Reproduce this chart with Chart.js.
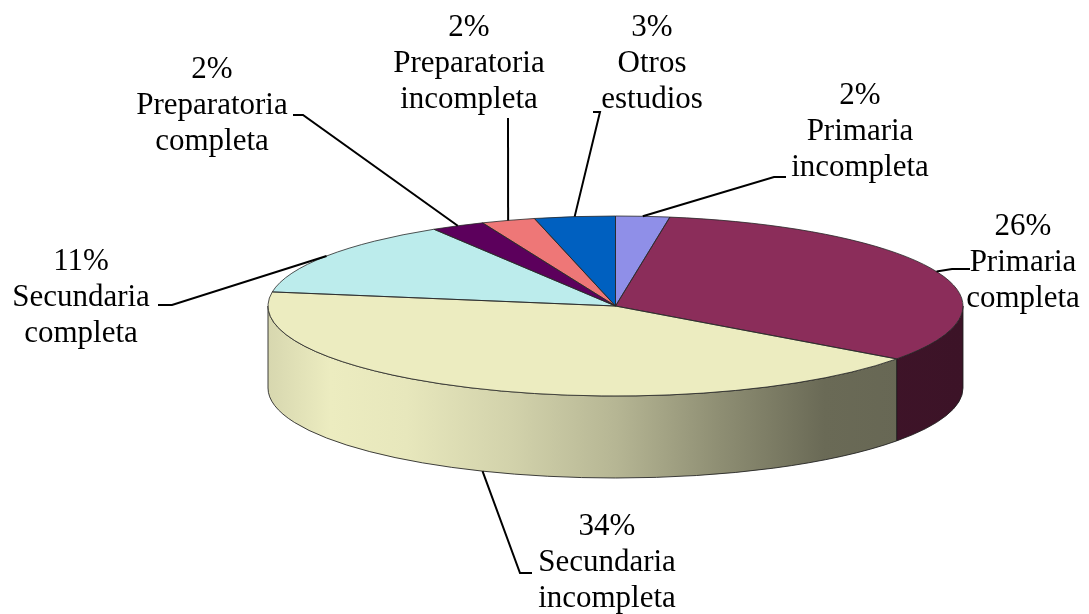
<!DOCTYPE html>
<html>
<head>
<meta charset="utf-8">
<script src="https://cdn.jsdelivr.net/npm/chart.js@4.4.1/dist/chart.umd.min.js"></script>
<style>
  html, body { margin: 0; padding: 0; background: #fff; }
  #pieChart { display: block; }
</style>
</head>
<body>
<canvas id="pieChart" width="1089" height="614"></canvas>
<script>
// data
const categories = ['Primaria incompleta', 'Primaria completa', 'Secundaria incompleta',
  'Secundaria completa', 'Preparatoria completa', 'Preparatoria incompleta', 'Otros estudios'];
const percents = [2, 26, 34, 11, 2, 2, 3];
const sliceColors = ['#8f8fe8', '#8b2d5a', '#ececc0', '#bcecec', '#5c005c', '#ee7777', '#0060c0'];

// label layout (centre of first text line) and leader line elbow/end points
const labelPos = [[860, 96], [1023, 227], [607, 527], [81, 262], [212, 70], [469, 28], [652, 28]];
const leaderTail = [[774, 177, 786, 177], [952, 269, 970, 269], [520, 573, 532, 573],
  [172, 305, 158, 305], [303, 115, 293, 115], [508, 118, 508, 118], [600, 112, 593, 112]];

const depth = 82;
const lineH = 36;
// shading of the side wall from left to right
const sideShade = [[0, 0.91], [0.09, 1], [0.2, 0.98], [0.35, 0.89], [0.5, 0.77], [0.65, 0.6], [0.8, 0.45], [1, 0.43]];

function shadeColor(hex, f) {
  const n = parseInt(hex.slice(1), 16);
  const r = Math.min(255, Math.round(((n >> 16) & 255) * f));
  const g = Math.min(255, Math.round(((n >> 8) & 255) * f));
  const b = Math.min(255, Math.round((n & 255) * f));
  return `rgb(${r},${g},${b})`;
}

function pieGeom(chart) {
  const arcs = chart.getDatasetMeta(0).data;
  const a = arcs[0];
  const rx = chart.chartArea.width / 2;
  return { arcs, cx: a.x, cy: a.y, r: a.outerRadius, rx, ry: a.outerRadius, k: rx / a.outerRadius };
}

const pie3d = {
  id: 'pie3d',
  beforeDatasetsDraw(chart) {
    const ctx = chart.ctx;
    const g = pieGeom(chart);
    // side walls (front half only)
    g.arcs.forEach((arc, i) => {
      const s = Math.max(arc.startAngle, 0);
      const e = Math.min(arc.endAngle, Math.PI);
      if (e <= s) return;
      const grad = ctx.createLinearGradient(g.cx - g.rx, 0, g.cx + g.rx, 0);
      sideShade.forEach(st => grad.addColorStop(st[0], shadeColor(sliceColors[i], st[1])));
      ctx.beginPath();
      ctx.ellipse(g.cx, g.cy, g.rx, g.ry, 0, s, e);
      ctx.ellipse(g.cx, g.cy + depth, g.rx, g.ry, 0, e, s, true);
      ctx.closePath();
      ctx.fillStyle = grad;
      ctx.fill();
      ctx.lineWidth = 1;
      ctx.strokeStyle = 'rgba(30,30,30,0.85)';
      ctx.stroke();
    });
    // squash the round pie into the ellipse of the top face
    ctx.save();
    ctx.translate(g.cx, 0);
    ctx.scale(g.k, 1);
    ctx.translate(-g.cx, 0);
  },
  afterDatasetsDraw(chart) {
    const ctx = chart.ctx;
    ctx.restore();
    const g = pieGeom(chart);
    // top face outlines
    g.arcs.forEach(arc => {
      ctx.beginPath();
      ctx.moveTo(g.cx, g.cy);
      ctx.ellipse(g.cx, g.cy, g.rx, g.ry, 0, arc.startAngle, arc.endAngle);
      ctx.closePath();
      ctx.lineWidth = 1;
      ctx.strokeStyle = 'rgba(40,40,40,0.8)';
      ctx.stroke();
    });
    // leader lines and labels
    ctx.font = '31px "Liberation Serif", "Times New Roman", serif';
    ctx.textAlign = 'center';
    ctx.textBaseline = 'middle';
    g.arcs.forEach((arc, i) => {
      const mid = (arc.startAngle + arc.endAngle) / 2;
      const ax = g.cx + g.rx * Math.cos(mid);
      const ay = g.cy + g.ry * Math.sin(mid) + (Math.sin(mid) > 0 ? depth : 0);
      const t = leaderTail[i];
      ctx.beginPath();
      ctx.moveTo(ax, ay);
      ctx.lineTo(t[0], t[1]);
      ctx.lineTo(t[2], t[3]);
      ctx.lineWidth = 2;
      ctx.strokeStyle = '#000';
      ctx.stroke();
      const lines = [percents[i] + '%'].concat(categories[i].split(' '));
      ctx.fillStyle = '#000';
      lines.forEach((txt, j) => ctx.fillText(txt, labelPos[i][0], labelPos[i][1] + j * lineH));
    });
  }
};

const ctx = document.getElementById('pieChart').getContext('2d');
window.pieChart = new Chart(ctx, {
  type: 'pie',
  data: {
    labels: categories,
    datasets: [{
      data: percents,
      backgroundColor: sliceColors,
      borderWidth: 0,
      clip: false
    }]
  },
  options: {
    responsive: false,
    animation: false,
    events: [],
    layout: { padding: { left: 268, right: 126, top: 216, bottom: 218 } },
    plugins: {
      legend: { display: false },
      tooltip: { enabled: false }
    }
  },
  plugins: [pie3d]
});
</script>
</body>
</html>
